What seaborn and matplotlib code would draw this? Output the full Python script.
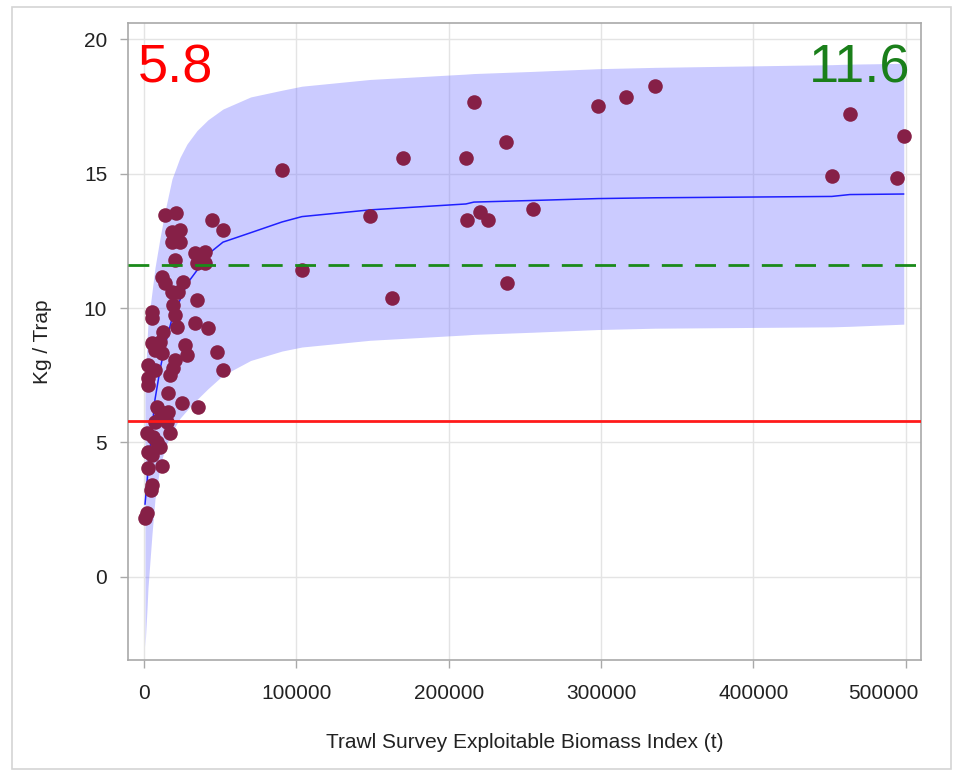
import matplotlib
matplotlib.use("Agg")
import matplotlib.pyplot as plt
import matplotlib.transforms as mtransforms
from matplotlib.patches import Rectangle
from matplotlib.ticker import FixedLocator, FuncFormatter
import numpy as np
import pandas as pd
import seaborn as sns

# Survey observations: exploitable biomass index (t) vs. catch rate (kg/trap)
biomass = [
    660, 1970, 5250, 4600, 2620, 11800, 2620, 5250, 10500, 8530,
    5900, 1970, 17060, 7220, 15090, 12470, 15750, 8530, 24940, 35430,
    15750, 2620, 2620, 17060, 7220, 19030, 51840, 2620, 20340, 11810,
    7220, 28220, 26900, 47900, 5250, 10500, 12470, 21650, 33470, 42000,
    5250, 5250, 20340, 19030, 34780, 18370, 22310, 11810, 13780, 25590,
    20340, 33470, 40030, 34780, 40030, 18370, 23620, 18370, 23620, 13780,
    21000, 44620, 51840, 10500,
    90560, 103680, 148300, 162740, 169960, 211300, 216550, 237550, 211950, 220480,
    225730, 238200, 255260, 297910, 316280, 335310, 451460, 463270, 494110, 498700,
]
kg_per_trap = [
    2.19, 2.38, 3.42, 3.23, 4.05, 4.13, 4.65, 4.54, 4.83, 5.02,
    5.20, 5.35, 5.35, 5.76, 5.76, 6.10, 6.13, 6.32, 6.47, 6.32,
    6.84, 7.14, 7.40, 7.51, 7.70, 7.77, 7.70, 7.88, 8.07, 8.33,
    8.44, 8.25, 8.62, 8.36, 8.70, 8.74, 9.11, 9.29, 9.44, 9.26,
    9.63, 9.85, 9.74, 10.11, 10.30, 10.59, 10.59, 11.15, 10.93, 10.97,
    11.78, 12.04, 12.08, 11.67, 11.67, 12.45, 12.45, 12.83, 12.90, 13.46,
    13.53, 13.27, 12.90, 5.90,
    15.13, 11.41, 13.42, 10.37, 15.58, 15.58, 17.66, 16.17, 13.27, 13.57,
    13.27, 10.93, 13.68, 17.51, 17.84, 18.25, 14.91, 17.21, 14.83, 16.39,
]

# Fitted curve with its prediction limits
curve_biomass = [
    660, 1970, 2620, 5250, 7220, 10500, 13780, 18370, 23620, 28220,
    34780, 42000, 51840, 70000, 90560, 103680, 148300, 211300, 216550, 255260,
    297910, 335310, 451460, 463270, 498700,
]
curve_fit = [
    2.70, 3.50, 3.95, 5.50, 6.60, 7.70, 8.60, 9.60, 10.30, 10.90,
    11.40, 12.00, 12.45, 12.80, 13.20, 13.40, 13.65, 13.87, 13.94, 14.00,
    14.07, 14.10, 14.15, 14.22, 14.24,
]
curve_lower = [
    -2.60, -1.20, -0.40, 1.60, 2.90, 4.10, 4.80, 5.40, 5.90, 6.20,
    6.60, 7.00, 7.50, 8.05, 8.40, 8.55, 8.80, 9.00, 9.02, 9.10,
    9.20, 9.25, 9.30, 9.32, 9.40,
]
curve_upper = [
    7.00, 8.80, 9.40, 10.60, 11.50, 12.60, 13.60, 14.80, 15.60, 16.10,
    16.60, 17.00, 17.40, 17.85, 18.10, 18.25, 18.50, 18.70, 18.72, 18.80,
    18.90, 18.95, 19.05, 19.07, 19.10,
]

lower_reference = 5.8
upper_reference = 11.6

x_ticks = [0, 100000, 200000, 300000, 400000, 500000]
y_ticks = [0, 5, 10, 15, 20]

obs = pd.DataFrame({"biomass": biomass, "kg": kg_per_trap})
curve = pd.DataFrame({"biomass": curve_biomass, "fit": curve_fit,
                      "lower": curve_lower, "upper": curve_upper})

sns.set_theme(style="whitegrid")
plt.rcParams["font.family"] = ["Liberation Sans", "DejaVu Sans"]

W, H = 960, 770
fig = plt.figure(figsize=(W / 100, H / 100), dpi=100)
fig.patch.set_facecolor("white")
ax = fig.add_axes([128 / W, 1 - 660 / H, (921 - 128) / W, (660 - 23) / H])
ax.set_facecolor("white")

# prediction band
ax.fill_between(curve["biomass"], curve["lower"], curve["upper"],
                color=(0.49, 0.49, 1.0), alpha=0.4, linewidth=0, zorder=1)

# fitted curve
sns.lineplot(data=curve, x="biomass", y="fit", ax=ax, color="#1f1fff",
             linewidth=1.1, sort=True, zorder=2)

# observations
sns.scatterplot(data=obs, x="biomass", y="kg", ax=ax, color="#862047",
                s=110, linewidth=0, zorder=3)

# reference levels
ax.axhline(lower_reference, color="#ff1a1a", linewidth=2.0, zorder=4)
ax.axhline(upper_reference, color="#1a8a1a", linewidth=2.0,
           dashes=(7.5, 4.5), zorder=4)

ax.text(0.013, 0.906, f"{lower_reference}", transform=ax.transAxes,
        color="#ff0000", fontsize=39, ha="left", va="baseline", zorder=5)
ax.text(0.986, 0.906, f"{upper_reference}", transform=ax.transAxes,
        color="#1a7f1a", fontsize=39, ha="right", va="baseline", zorder=5)

ax.set_xlim(-10500, 510000)
ax.set_ylim(-3.09, 20.6)
ax.xaxis.set_major_locator(FixedLocator(x_ticks))
ax.yaxis.set_major_locator(FixedLocator(y_ticks))
ax.xaxis.set_major_formatter(FuncFormatter(lambda v, p: f"{int(v)}"))
ax.yaxis.set_major_formatter(FuncFormatter(lambda v, p: f"{int(v)}"))

ax.grid(True, color="#e4e4e4", linewidth=1.0, zorder=0)
ax.set_axisbelow(True)
for sp in ax.spines.values():
    sp.set_color("#a9a9a9")
    sp.set_linewidth(1.2)

ax.tick_params(axis="both", direction="out", length=6, width=1,
               color="#a9a9a9", labelcolor="#222222", labelsize=15,
               bottom=True, left=True)
ax.tick_params(axis="x", pad=11)
ax.tick_params(axis="y", pad=9)

ax.set_xlabel("Trawl Survey Exploitable Biomass Index (t)", fontsize=15,
              color="#222222", labelpad=22)
ax.set_ylabel("Kg / Trap", fontsize=15, color="#222222", labelpad=23)

# keep the last x tick label inside the frame
fig.canvas.draw()
last = ax.get_xticklabels()[-1]
last.set_transform(last.get_transform() +
                   mtransforms.ScaledTranslation(-22 / 100, 0, fig.dpi_scale_trans))

# outer border of the graph area
fig.add_artist(Rectangle((12 / W, 1 - 769 / H), (951 - 12) / W, (769 - 7) / H,
                         transform=fig.transFigure, fill=False,
                         edgecolor="#d4d4d4", linewidth=1.2))

fig.savefig("out.png", dpi=100, facecolor="white")
